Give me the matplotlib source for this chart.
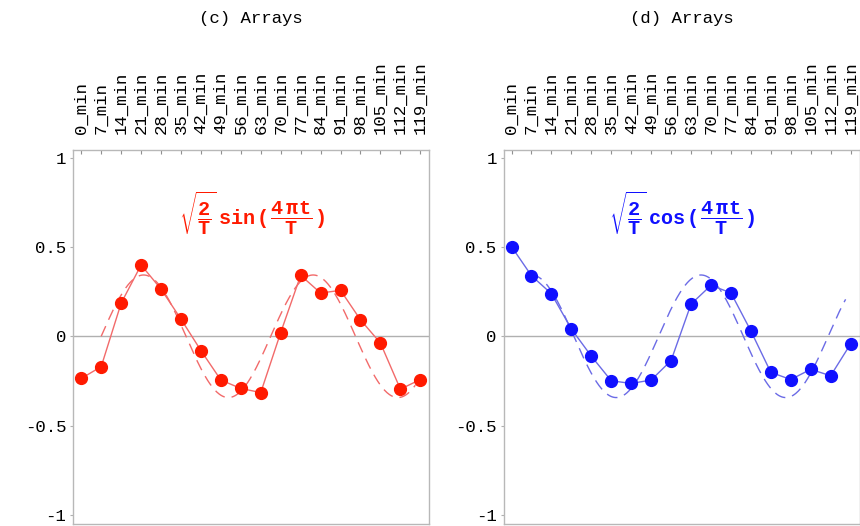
import numpy as np
import matplotlib
matplotlib.use("Agg")
import matplotlib.pyplot as plt

plt.rcParams["mathtext.fontset"] = "custom"
plt.rcParams["mathtext.rm"] = "Liberation Mono:bold"
plt.rcParams["mathtext.it"] = "Liberation Mono:bold"
plt.rcParams["mathtext.bf"] = "Liberation Mono:bold"

MONO = "Liberation Mono"

# sample times (minutes)
minutes = list(range(0, 120, 7))
tick_labels = [f"{m}_min" for m in minutes]

# measured array values per time point
sin_values = [-0.236, -0.170, 0.185, 0.399, 0.264, 0.096, -0.080, -0.245, -0.292,
              -0.315, 0.021, 0.341, 0.242, 0.257, 0.092, -0.038, -0.296, -0.242]
cos_values = [0.502, 0.339, 0.238, 0.041, -0.111, -0.249, -0.264, -0.245, -0.136,
              0.180, 0.285, 0.243, 0.030, -0.202, -0.242, -0.185, -0.221, -0.043]

titles = ["(c) Arrays", "(d) Arrays"]
formulas = [r"$\sqrt{\dfrac{2}{T}}\;\mathrm{sin}\,(\,\dfrac{4\;\pi t}{T}\,)$",
            r"$\sqrt{\dfrac{2}{T}}\;\mathrm{cos}\,(\,\dfrac{4\;\pi t}{T}\,)$"]
point_colors = ["#ff1a00", "#1010ff"]
line_colors = ["#f26a6a", "#6b6be6"]

# reference harmonic (period T, drawn from sample 1 onward)
T = 17.0
t_ref = np.linspace(0, 15.75, 400)
ref_curves = [np.sqrt(2 / T) * np.sin(4 * np.pi * t_ref / T),
              np.sqrt(2 / T) * np.cos(4 * np.pi * t_ref / T)]

fig = plt.figure(figsize=(8.6, 5.26), dpi=100)
ax_w = 0.414
ax_h = 0.710
ax_b = 0.004
lefts = [0.0852, 0.5855]
series = [sin_values, cos_values]
x = np.arange(len(minutes))

for k in range(2):
    ax = fig.add_axes([lefts[k], ax_b, ax_w, ax_h])
    ax.axhline(0, color="#b0b0b0", lw=1.0, zorder=1)
    ax.plot(t_ref + 1, ref_curves[k], ls=(0, (8, 5)), color=line_colors[k], lw=1.0, zorder=2)
    ax.plot(x, series[k], "-", color=line_colors[k], lw=1.0, zorder=3)
    ax.plot(x, series[k], "o", color=point_colors[k], ms=8.5, mec=point_colors[k], zorder=4)

    ax.set_xlim(-0.4, 17.45)
    ax.set_ylim(-1.05, 1.04)

    for s in ax.spines.values():
        s.set_color("#b8b8b8")
        s.set_linewidth(1.0)

    ax.xaxis.tick_top()
    ax.set_xticks(x)
    ax.set_xticklabels(tick_labels, rotation=90, family=MONO, fontsize=12.5,
                       va="bottom", ha="center")
    ax.tick_params(axis="x", direction="in", length=3, width=0.8, color="#909090",
                   pad=12, top=True, bottom=False)

    ax.set_yticks([-1, -0.5, 0, 0.5, 1])
    ax.set_yticklabels(["-1", "-0.5", "0", "0.5", "1"], family=MONO, fontsize=12.5)
    ax.tick_params(axis="y", direction="out", length=2, width=0.8, color="#b0b0b0", pad=3)

    ax.text(8.55, 0.69, formulas[k], color=point_colors[k], fontsize=14.5,
            ha="center", va="center")

    fig.text(lefts[k] + ax_w / 2, 0.965, titles[k], family=MONO, fontsize=12.5,
             ha="center", va="center")

fig.savefig("out.png", dpi=100)
